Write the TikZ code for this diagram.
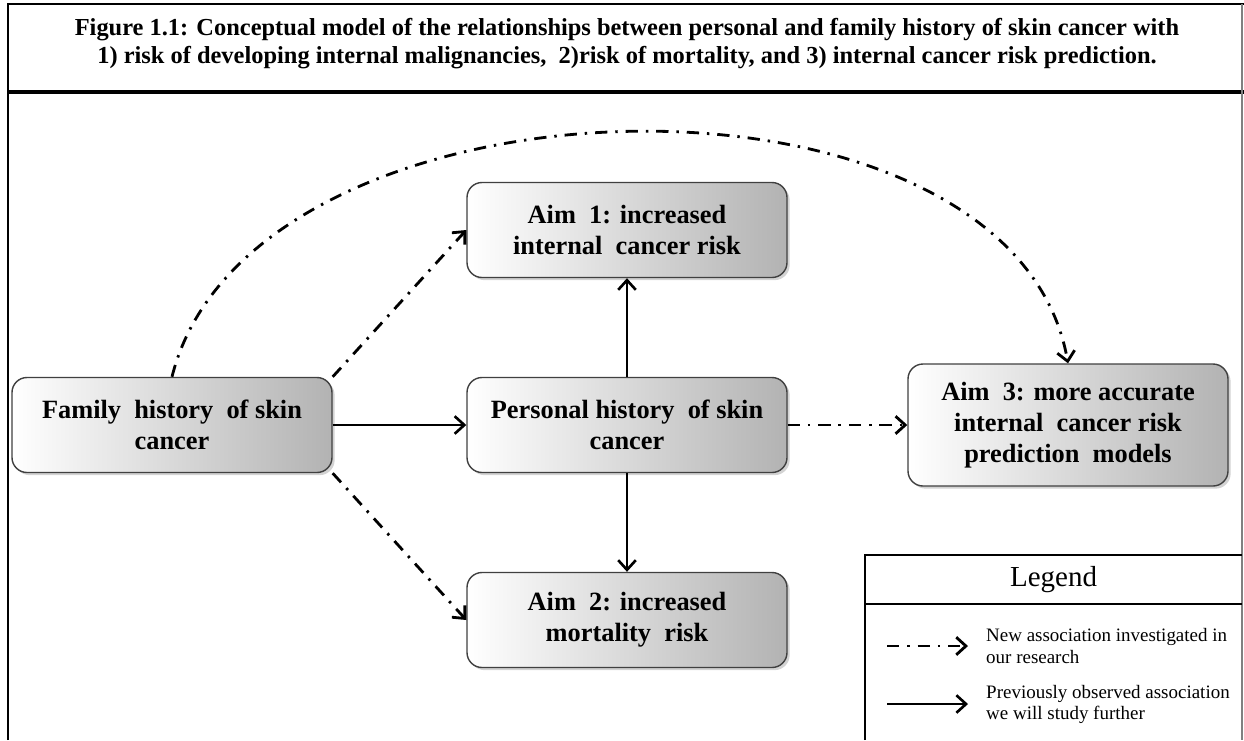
\documentclass[tikz,border=0pt]{standalone}
\usepackage{fontspec}
\setmainfont{Liberation Serif}
\usepackage{tikz}
\usetikzlibrary{positioning,shadows,arrows.meta}

\begin{document}
\begin{tikzpicture}[node distance=9.1cm,on grid,
    box/.style={draw=black!75,line width=0.8pt,rounded corners=0.3cm,minimum width=6.4cm,minimum height=1.9cm,align=center,
      font=\fontsize{15}{17.6}\selectfont\bfseries,left color=white,right color=black!30,
      drop shadow={shadow xshift=1.5pt,shadow yshift=-1.5pt,opacity=0.35}},
    new/.style={line width=1.6pt,dash pattern=on 7pt off 4.5pt on 1.4pt off 4.5pt,-{Straight Barb[length=5.5pt,width=10pt]}},
    old/.style={line width=1.5pt,-{Straight Barb[length=5.5pt,width=10pt]}},
    frame/.style={line width=1.5pt},
    legtext/.style={anchor=west,align=left,font=\fontsize{10.8}{12}\selectfont}]
  \useasboundingbox (0,0) rectangle (24.88,-14.8);
  \draw[frame] (0.16,-14.8) -- (0.16,-0.08) -- (24.88,-0.08);
  \draw[line width=2pt] (0.16,-1.84) -- (24.88,-1.84);
  \draw[black!50,line width=0.8pt] (24.84,-0.08) -- (24.84,-14.8);
  \node[font=\fontsize{13.9}{15.6}\selectfont\bfseries,align=center] (title) at (12.54,-0.87)
    {Figure 1.1: Conceptual model of the relationships between personal and family history of skin cancer with\\
     1) risk of developing internal malignancies,\ \ 2)risk of mortality, and 3) internal cancer risk prediction.};

  \node[box] (fam) at (3.44,-8.5) {Family\ \ history\ \ of skin\\cancer};
  \node[box] (pers) [right=of fam] {Personal history\ \ of skin\\cancer};
  \node[box] (aim_1) [above=3.9cm of pers] {Aim\ \ 1: increased\\internal\ \ cancer risk};
  \node[box] (aim_2) [below=3.9cm of pers] {Aim\ \ 2: increased\\mortality\ \ risk};
  \node[box,minimum height=2.44cm] (aim_3) [right=8.82cm of pers] {Aim\ \ 3: more accurate\\internal\ \ cancer risk\\prediction\ \ models};

  \path
    (fam) edge[old] (pers)
    (pers) edge[old] (aim_1)
    (pers) edge[old] (aim_2)
    (fam.north east) edge[new] (aim_1.west)
    (fam.south east) edge[new] (aim_2.west)
    (pers) edge[new] (aim_3)
    (fam.north) edge[new,out=76,in=100,distance=6.5cm] (aim_3.north);

  \draw[frame] (17.3,-14.8) -- (17.3,-11.1) -- (24.84,-11.1);
  \draw[frame] (17.3,-12.08) -- (24.84,-12.08);
  \node[font=\fontsize{16.5}{18}\selectfont] (leg) at (21.07,-11.6) {Legend};

  \coordinate (n_0) at (17.74,-12.92);
  \coordinate (n_1) at (19.36,-12.92);
  \coordinate (o_0) at (17.74,-14.08);
  \coordinate (o_1) at (19.36,-14.08);
  \draw[new] (n_0) -- (n_1);
  \draw[old] (o_0) -- (o_1);
  \node[legtext] (txt_n) at (19.6,-12.92) {New association investigated in\\our research};
  \node[legtext] (txt_o) at (19.6,-14.08) {Previously observed association\\we will study further};
\end{tikzpicture}
\end{document}
